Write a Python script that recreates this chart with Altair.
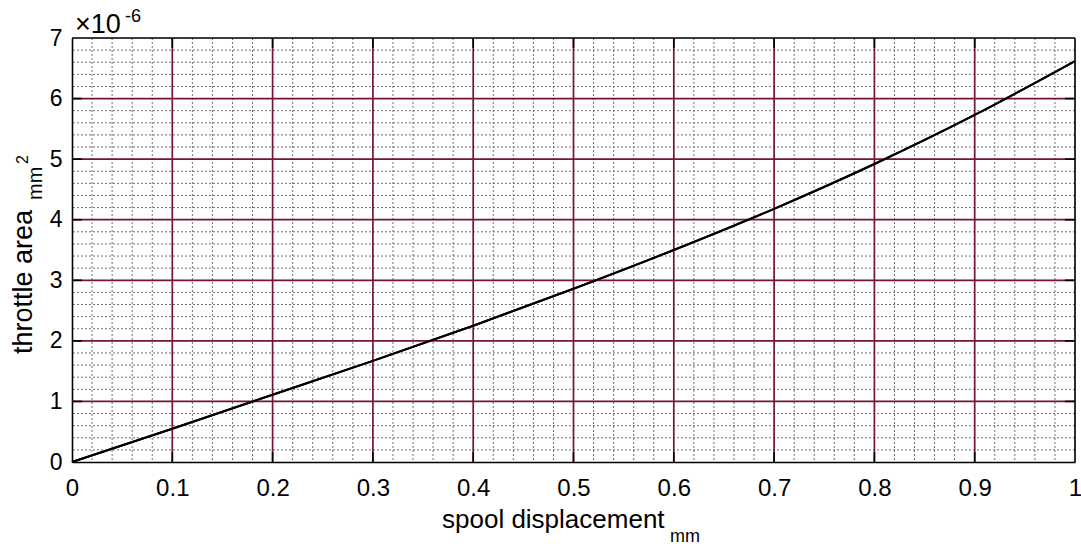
import altair as alt
import pandas as pd

# data (throttle area in units of 1e-6 mm^2)
disp = [0.0, 0.1, 0.2, 0.3, 0.4, 0.5, 0.6, 0.7, 0.8, 0.9, 1.0]
area = [0.0, 0.55, 1.11, 1.67, 2.25, 2.86, 3.50, 4.18, 4.92, 5.73, 6.62]

x_major = [0.0, 0.1, 0.2, 0.3, 0.4, 0.5, 0.6, 0.7, 0.8, 0.9, 1.0]
y_major = [0, 1, 2, 3, 4, 5, 6, 7]
x_minor = [round(i * 0.02, 2) for i in range(51) if i % 5 != 0]
y_minor = [round(i * 0.2, 1) for i in range(36) if i % 5 != 0]

W, H = 1003, 424
FONT = "Liberation Sans"
MAROON = "#761432"

xs = alt.Scale(domain=[0, 1], nice=False)
ys = alt.Scale(domain=[0, 7], nice=False)

x_axis = alt.Axis(values=x_major, title=None, grid=False, domain=True, domainColor="black",
                  domainWidth=1.6, ticks=False, labelFontSize=24, labelFont=FONT,
                  labelColor="black", labelPadding=14,
                  labelExpr="datum.value == 0 ? '0' : datum.value == 1 ? '1' : format(datum.value, '.1f')",
                  labelFlush=False)
y_axis = alt.Axis(values=y_major, title=None, grid=False, domain=True, domainColor="black",
                  domainWidth=1.6, ticks=False, labelFontSize=23, labelFont=FONT,
                  labelColor="black", labelPadding=10, format="d", labelFlush=False)

X = lambda: alt.X("x:Q", scale=xs, axis=x_axis)
Y = lambda: alt.Y("y:Q", scale=ys, axis=y_axis)

line_df = pd.DataFrame({"x": disp, "y": area})
xmin_df = pd.DataFrame({"x": x_minor})
ymin_df = pd.DataFrame({"y": y_minor})
xmaj_df = pd.DataFrame({"x": x_major[1:-1]})
ymaj_df = pd.DataFrame({"y": y_major[1:-1]})

line = alt.Chart(line_df).mark_line(color="black", strokeWidth=2, interpolate="monotone").encode(
    x=X(), y=Y())

minor_v = alt.Chart(xmin_df).mark_rule(color="#6f6f6f", strokeDash=[2, 2], strokeWidth=1).encode(x=X())
minor_h = alt.Chart(ymin_df).mark_rule(color="#6f6f6f", strokeDash=[2, 2], strokeWidth=1).encode(y=Y())
major_v = alt.Chart(xmaj_df).mark_rule(color=MAROON, strokeWidth=1.7).encode(x=X())
major_h = alt.Chart(ymaj_df).mark_rule(color=MAROON, strokeWidth=1.7).encode(y=Y())

# black inward tick marks at major positions
tick_b = alt.Chart(xmaj_df).mark_rule(color="black", strokeWidth=1.6).encode(
    x=X(), y=alt.value(H), y2=alt.value(H - 10))
tick_t = alt.Chart(xmaj_df).mark_rule(color="black", strokeWidth=1.6).encode(
    x=X(), y=alt.value(0), y2=alt.value(10))
tick_l = alt.Chart(ymaj_df).mark_rule(color="black", strokeWidth=1.6).encode(
    y=Y(), x=alt.value(0), x2=alt.value(10))
tick_r = alt.Chart(ymaj_df).mark_rule(color="black", strokeWidth=1.6).encode(
    y=Y(), x=alt.value(W), x2=alt.value(W - 10))

# frame (top and right edges)
frame_t = alt.Chart(pd.DataFrame({"k": [0]})).mark_rule(color="black", strokeWidth=1.6).encode(
    x=alt.value(0), x2=alt.value(W), y=alt.value(0))
frame_r = alt.Chart(pd.DataFrame({"k": [0]})).mark_rule(color="black", strokeWidth=1.6).encode(
    x=alt.value(W), y=alt.value(0), y2=alt.value(H))


def txt(s, x, y, size=22, angle=0, align="left", baseline="alphabetic"):
    return alt.Chart(pd.DataFrame({"t": [s]})).mark_text(
        font=FONT, fontSize=size, angle=angle, align=align, baseline=baseline, color="black"
    ).encode(text="t:N", x=alt.value(x), y=alt.value(y))


titles = [
    txt("spool displacement", 370, 528 - 38, size=26),
    txt("mm", 598, 542 - 38, size=18),
    txt("throttle area", 32 - 72, 354 - 38, size=27, angle=270),
    txt("mm", 42 - 72, 200 - 38, size=20, angle=270),
    txt("2", 28 - 72, 164 - 38, size=16, angle=270),
    txt("×10", 3, 33 - 38, size=27),
    txt("-6", 53, 22 - 38, size=18),
]

chart = alt.layer(line, minor_v, minor_h, major_v, major_h, tick_b, tick_t, tick_l, tick_r,
                  frame_t, frame_r, line, *titles).properties(
    width=W, height=H,
    autosize=alt.AutoSizeParams(type="none"),
    padding={"left": 72, "top": 38, "right": 6, "bottom": 85},
).configure_view(stroke="black", strokeWidth=1.6).configure(background="white")

chart.save("out.html", embed_options={"renderer": "svg", "actions": False})
